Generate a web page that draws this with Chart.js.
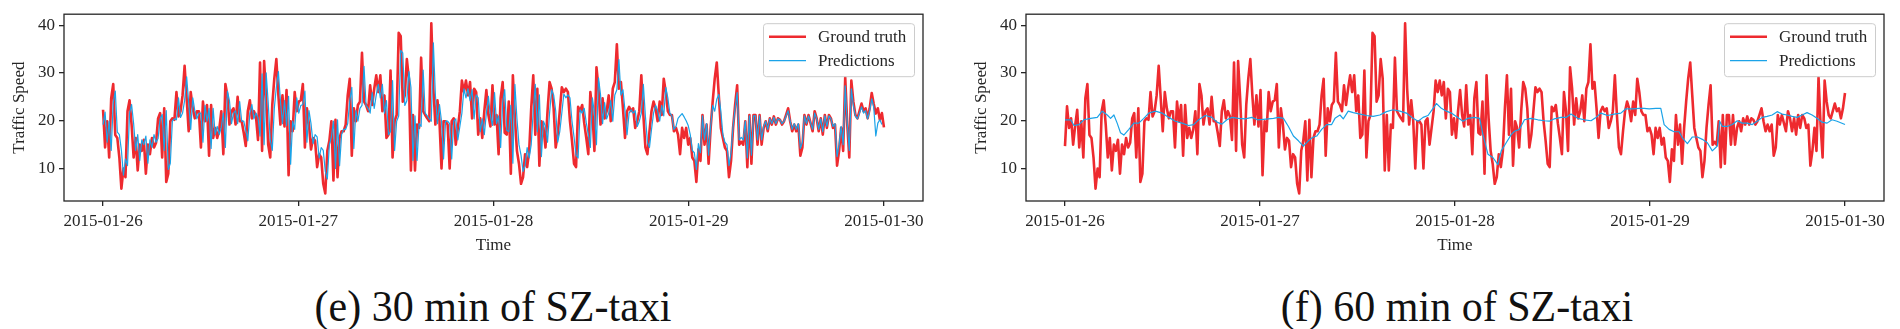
<!DOCTYPE html>
<html lang="en">
<head>
<meta charset="UTF-8">
<title>SZ-taxi traffic speed predictions</title>
<script src="https://cdn.jsdelivr.net/npm/chart.js"></script>
<style>
  body {
    margin: 0;
    background: #fff;
    width: 1900px;
    height: 329px;
    overflow: hidden;
    position: relative;
    font-family: 'Liberation Serif', 'Times New Roman', serif;
  }
  .panel { position: absolute; top: 0; }
  .caption {
    position: absolute;
    top: 283px;
    width: 600px;
    text-align: center;
    font-size: 42px;
    line-height: 48px;
    color: #111;
    transform: scaleY(1.07);
    transform-origin: 50% 38px;
  }
</style>
</head>
<body>

<canvas id="chart30" class="panel" width="950" height="260" style="left:0px"></canvas>
<canvas id="chart60" class="panel" width="938" height="260" style="left:962px"></canvas>
<div class="caption" style="left:193px">(e) 30 min of SZ-taxi</div>
<div class="caption" style="left:1157px">(f) 60 min of SZ-taxi</div>

<script>
// x axis is in hours since 2015-01-26 00:00
const tickHours = [0, 24, 48, 72, 96];
const dateLabels = ['2015-01-26', '2015-01-27', '2015-01-28', '2015-01-29', '2015-01-30'];
const yTicks = [10, 20, 30, 40];

// ground truth speed, 15 min samples. The 60 min panel shows the first 384,
// the 30 min panel starts 6 samples later (so it also shows the last 6)
const groundTruth = [
  14.7, 23, 18.5, 20.5, 15, 19, 22.3, 14.4, 19.9, 12.3, 24.7, 27.7, 17, 16.4, 12.3, 5.8, 10, 8.2, 22, 24.3,
  19.2, 12.3, 16.4, 9.6, 15, 13.7, 16, 8.9, 15, 13, 16.4, 14.4, 15.4, 20.5, 21.6, 12.3, 22.6, 7.2, 8.9, 19.9,
  20.5, 20.2, 26, 20.9, 22, 25.3, 31.5, 24.7, 17.8, 26, 22.6, 20.5, 22, 22, 14.4, 24, 19.9, 23.3, 12.7, 23.3,
  16.4, 18.5, 16.4, 18.2, 22, 13, 27.7, 25.3, 19.2, 22, 22.6, 19.2, 25, 19.9, 19.9, 17.5, 14.7, 22, 24.3, 20.5,
  22, 20.9, 16, 32.2, 13.7, 32.5, 24.7, 15, 12.3, 23.3, 28.8, 32.9,
  25.3, 19.2, 25.3, 18.8, 26.4, 8.6, 19.9, 17.8, 26, 22, 24, 24.3, 27.7, 14.4, 22.6, 19.2, 14, 16.4, 15.8, 10.3,
  13, 12.3, 6.8, 4.8, 13.7, 15.8, 19.9, 7.5, 20.2, 8.2, 16.4, 17.8, 17.8, 19.2, 25.3, 28.8, 12.7, 22.6, 19.9, 23.3,
  24, 34.2, 24, 23.3, 22, 27.4, 23.3, 26.7, 29.5, 26, 29.5, 22, 25.3, 16.4, 17.1, 30.5, 12.3, 19.9, 21.2, 38.4,
  37.7, 24, 25.3, 32.9, 28.8, 9.6, 21.2, 9.6, 19.2, 18.5, 33.2, 22, 21.2, 20.5, 19.9, 40.4, 26.7, 19.2, 24.3, 19.9,
  10, 19.9, 19.9, 19.2, 10, 19.9, 20.5, 15, 18.5, 22, 28.4, 26, 28.4, 25.3, 28.1,
  20.5, 26.7, 26, 17.1, 20.5, 16.4, 22, 26.4, 21.2, 18.8, 27.4, 19.2, 21.2, 13, 24.7, 28.1, 17.5, 17.1, 24, 8.9,
  29.5, 20.5, 13.7, 11, 6.8, 8.2, 13, 10.3, 13.7, 22.6, 29.5, 17.1, 26.7, 10.6, 19.9, 18.5, 14.4, 22, 28.1, 26.7,
  22.6, 14.4, 17.1, 22, 27, 26, 26.7, 26, 19.9, 15.8, 11, 10.3, 22.9, 22, 23.3, 19.5, 16.4, 13, 26, 22,
  13.7, 31.2, 26.7, 19.2, 24.7, 20.5, 22, 25.3, 19.9, 26.7, 28.1, 36, 26.7, 28.1, 22.6, 16.4, 22, 22.9, 22, 22.6,
  18.5, 19.9, 22, 29.5, 21.2, 14.4, 13, 17.8, 22, 24, 22.6, 19.9, 24, 21.2, 28.8, 26, 22, 21.2,
  21.2, 17.8, 18.5, 17.1, 13, 18.5, 16.4, 18.5, 15, 16.4, 12.3, 11.6, 7.2, 14, 11.6, 21.2, 15, 19.2, 11, 18.5,
  24, 28.8, 32.2, 25.3, 18.5, 16.4, 14.4, 13.7, 8.2, 11.6, 18.5, 23.3, 27.4, 15, 15.6, 15, 19.9, 10.3, 21.2, 11,
  21.2, 21.2, 15, 21.2, 15, 18.5, 19.9, 17.8, 20.5, 19.2, 20.9, 19.2, 20.5, 20.2, 19.2, 19.9, 21.2, 22.6, 19.9, 17.8,
  19.2, 17.8, 19.2, 12.7, 14.4, 21.2, 19.2, 21.2, 19.5, 17.8, 22, 20.5, 17.8, 20.5, 17.1, 21.2, 18.5, 21.2, 20.5, 18.5,
  19.2, 10.6, 13.7, 18.5, 13.7, 29.1, 19.2, 12.3, 28.4, 24, 21.2, 20.5, 22, 23.6, 22, 22.6, 20.5, 22.6, 25.8,
  23.5, 21.5, 22.6, 20.2, 21.6, 18.6
];
const OFFSET_30 = 6;
const SAMPLES = 384;

// 30 min predictions, same 15 min grid as the 30 min panel
const pred30 = [
  19.2, 21.8, 15.5, 19.9, 13.8, 23.8, 26.2, 17.6, 17.1, 13.8, 8.6, 12, 10.6, 21.6, 23.4, 19.4, 13.8, 17.1, 11.7, 16,
  15, 16.8, 11.1, 16, 14.4, 17.1, 15.5, 16.3, 20.4, 21.3, 13.8, 22.1, 9.8, 11.1, 19.9, 20.4, 20.2, 24.8, 20.7, 21.6,
  24.2, 29.2, 23.8, 18.2, 24.8, 22.1, 20.4, 21.6, 21.6, 15.5, 23.2, 19.9, 22.6, 14.2, 22.6, 17.1, 18.8, 17.1, 18.6, 21.6,
  14.4, 26.2, 24.2, 19.4, 21.6, 22.1, 19.4, 24, 19.9, 19.9, 18, 15.8, 21.6, 23.4, 20.4, 21.6, 20.7, 16.8, 29.8, 15,
  30, 23.8, 16, 13.8, 22.6, 27,
  30.3, 24.2, 19.4, 24.2, 19, 25.1, 10.9, 19.9, 18.2, 24.8, 21.6, 23.2, 23.4, 26.2, 15.5, 22.1, 19.4, 15.2, 17.1, 16.6,
  12.2, 14.4, 13.8, 9.4, 7.8, 15, 16.6, 19.9, 10, 20.2, 10.6, 17.1, 18.2, 18.2, 19.4, 24.2, 27, 14.2, 22.1, 19.9,
  22.6, 23.2, 31.4, 23.2, 22.6, 21.6, 25.9, 22.6, 25.4, 27.6, 24.8, 27.6, 21.6, 24.2, 17.1, 17.7, 28.4, 13.8, 19.9, 21,
  34.7, 34.2, 23.2, 24.2, 30.3, 27, 11.7, 21, 11.7, 19.4, 18.8, 30.6, 21.6, 21, 20.4, 19.9, 36.3, 25.4, 19.4, 23.4,
  19.9, 12, 19.9, 19.9, 19.4, 12, 19.9, 20.4, 16, 18.8, 21.6, 26.7, 24.8, 26.7, 24.2,
  26.5, 20.4, 25.4, 24.8, 17.7, 20.4, 17.1, 21.6, 25.1, 21, 19, 25.9, 19.4, 21, 14.4, 23.8, 26.5, 18, 17.7, 23.2,
  11.1, 27.6, 20.4, 15, 12.8, 9.4, 10.6, 14.4, 12.2, 15, 22.1, 27.6, 17.7, 25.4, 12.5, 19.9, 18.8, 15.5, 21.6, 26.5,
  25.4, 22.1, 15.5, 17.7, 21.6, 25.6, 24.8, 25.4, 24.8, 19.9, 16.6, 12.8, 12.2, 22.3, 21.6, 22.6, 19.6, 17.1, 14.4, 24.8,
  21.6, 15, 29, 25.4, 19.4, 23.8, 20.4, 21.6, 24.2, 19.9, 25.4, 26.5, 32.8, 25.4, 26.5, 22.1, 17.1, 21.6, 22.3, 21.6,
  22.1, 18.8, 19.9, 21.6, 27.6, 21, 15.5, 14.4, 18.2, 21.6, 23.2, 22.1, 19.9, 23.2, 21, 27, 24.8, 21.6,
  21, 18.2, 18.8, 20.5, 21, 21.5, 20.8, 20, 19, 17.1, 13.8, 13.3, 9.8, 15.2, 13.3, 21, 16, 19.4, 12.8, 18.8,
  23.2, 22, 24.5, 25.5, 22, 17.1, 15.5, 15, 10.6, 13.3, 18.8, 22.6, 25.9, 16, 16.5, 16, 19.9, 12.2, 21, 12.8,
  21, 21, 16, 21, 16, 18.8, 19.9, 18.2, 20.4, 19.4, 20.7, 19.4, 20.4, 20.2, 19.4, 19.9, 21, 22.1, 19.9, 18.2,
  19.4, 18.2, 19.4, 14.2, 15.5, 21, 19.4, 21, 19.6, 18.2, 21.6, 20.4, 18.2, 20.4, 17.7, 21, 18.8, 21, 20.4, 18.8,
  19.4, 12.5, 15, 18.8, 15, 27.3, 19.4, 13.8, 26.7, 23.2, 21, 20.4, 21.6, 22.9, 21.6, 22.1, 20.4, 22.1,
  24.6, 22.8, 16.8, 19.5, 20.2, 19.2
];

// 60 min predictions, traced where the smooth curve bends
const pred60Hours = [
  0, 0.70, 1.10, 1.72, 2.33, 3.15, 3.97, 4.58, 5.20, 5.61, 6.02, 6.42, 6.83, 7.24, 7.86, 8.47, 9.08, 9.70, 10.31, 11.13,
  11.95, 12.77, 13.59, 14.40, 15.22, 15.84, 16.45, 17.27, 18.09, 18.70, 19.31, 19.93, 20.54, 21.36, 22.18, 23.00, 23.69,
  24.43, 25.04, 25.66, 26.27, 26.88, 27.50, 28.11, 28.73, 29.34, 29.95, 30.36, 30.98, 31.59, 32.20, 32.82, 33.23, 33.84,
  34.25, 34.86, 35.48, 36.30, 37.11, 37.93, 38.75, 39.57, 40.39, 41.21, 42.02, 42.84, 43.46, 44.07, 44.68, 45.30, 45.71,
  46.32, 46.94, 47.55,
  48.16, 48.98, 49.60, 50.41, 51.03, 51.44, 52.05, 52.66, 53.28, 53.69, 54.30, 54.92, 55.32, 55.94, 56.55, 57.37, 58.19,
  59.01, 59.62, 60.23, 61.05, 61.67, 62.28, 63.10, 63.92, 64.74, 65.35, 65.96, 66.78, 67.60, 68.42, 69.03, 69.85, 70.67,
  71.28, 71.90, 72.72, 73.33, 73.74, 74.35, 74.97, 75.58, 75.99, 76.60, 77.22, 77.83, 78.44, 79.06, 79.67, 80.29, 80.57,
  80.90, 81.51, 82.13, 82.74, 83.35, 83.97, 84.58, 85.20, 85.81, 86.42, 87.04, 87.65, 88.26, 88.88, 89.49, 90.11, 90.72,
  91.33, 91.95, 92.56, 93.17, 93.79, 94.40, 95.02, 96
];
const pred60 = [
  20.2, 20.2, 19, 19.2, 20.2, 20.5, 20.7, 22, 21.2, 20.5, 21.2, 19.5, 17.5, 17, 18.2, 19.5, 19.5, 20.5, 21.6, 22,
  21.6, 20.7, 19.9, 19.5, 19, 19.2, 20.2, 21.1, 20.7, 19.7, 19.3, 20.2, 20.7, 20.5, 20.4, 20.7, 20.2,
  20.3, 20.4, 20.5, 20.7, 20.5, 18.8, 16.8, 15.8, 14.7, 15.8, 16.4, 16.8, 18.2, 19.2, 19.2, 20.5, 21.2,
  20.4, 22, 21.7, 21.4, 21.1, 20.9, 21.2, 21.9, 22.3, 22, 21.6, 20.5, 19.9, 20.7, 21.1, 22.6, 23.6,
  22.6, 22, 21.6,
  20.9, 19.9, 20.5, 20.7, 20.5, 17.1, 13, 12.3, 10.8, 13.7, 15.4, 17.1, 17.8, 18.2, 20.2, 20.5, 20.2,
  20, 19.9, 20.4, 20.7, 20.7, 21.4, 20.5, 20.2, 20, 20.7, 21.6, 21.1, 21.4, 21.6, 22.5, 22.5, 22.6,
  22.6, 22.5, 22.6, 22.6, 19.2, 18.2, 17.7, 17.7, 16.4, 15.2, 16.6, 16.6, 16.1, 15.4, 13.7, 14.7, 19.9,
  18.8, 18.8, 19.2, 20, 19.5, 19.5, 19.2, 19.9, 20.7, 20.9, 21.2, 21.9, 21.4, 21.2, 20.9, 20.7, 21.2,
  21.7, 21.2, 20.5, 19.7, 19.5, 20.2, 19.9, 19.2
];

const TEXT_COLOR = '#262626';
const RED = '#ee2a2f';
const BLUE = '#1ba3e8';
const FONT = "'Liberation Serif', 'Times New Roman', serif";
const STEP = 96 / (SAMPLES - 1);

function toPoints(values) {
  return values.map((v, i) => ({ x: i * STEP, y: v }));
}

// frame round the plot and a matplotlib-like legend box
const frameLegend = {
  id: 'frameLegend',
  afterDatasetsDraw(chart) {
    const ctx = chart.ctx;
    const a = chart.chartArea;
    ctx.save();
    ctx.strokeStyle = TEXT_COLOR;
    ctx.lineWidth = 1.3;
    ctx.strokeRect(a.left, a.top, a.right - a.left, a.bottom - a.top);

    const w = 151, h = 53;
    const x = a.right - 9 - w, y = a.top + 9;
    ctx.beginPath();
    ctx.roundRect(x + 0.5, y + 0.5, w, h, 3);
    ctx.fillStyle = 'rgba(255,255,255,0.85)';
    ctx.fill();
    ctx.strokeStyle = '#cccccc';
    ctx.lineWidth = 1;
    ctx.stroke();

    chart.data.datasets.forEach((ds, i) => {
      const ly = y + 13.5 + i * 24;
      ctx.beginPath();
      ctx.moveTo(x + 6, ly);
      ctx.lineTo(x + 43, ly);
      ctx.strokeStyle = ds.borderColor;
      ctx.lineWidth = ds.borderWidth;
      ctx.stroke();
      ctx.fillStyle = TEXT_COLOR;
      ctx.font = '17px ' + FONT;
      ctx.textBaseline = 'middle';
      ctx.fillText(ds.label, x + 55, ly + 1);
    });
    ctx.restore();
  }
};

function makeChart(id, truthPoints, predPoints, padRight) {
  new Chart(document.getElementById(id), {
    type: 'line',
    data: {
      datasets: [
        { label: 'Ground truth', data: truthPoints, borderColor: RED, borderWidth: 2.6, order: 2 },
        { label: 'Predictions', data: predPoints, borderColor: BLUE, borderWidth: 1.2, order: 1 }
      ]
    },
    options: {
      responsive: false,
      animation: false,
      events: [],
      layout: { padding: { left: 0, right: padRight, top: 11, bottom: 4 } },
      elements: {
        point: { radius: 0 },
        line: { tension: 0, borderJoinStyle: 'round', fill: false }
      },
      plugins: { legend: { display: false }, tooltip: { enabled: false } },
      scales: {
        x: {
          type: 'linear',
          min: -4.8,
          max: 100.8,
          afterBuildTicks: s => { s.ticks = tickHours.map(v => ({ value: v })); },
          afterFit: s => { s.height = 55; },
          border: { display: false },
          grid: { drawOnChartArea: false, drawTicks: true, tickLength: 5, color: TEXT_COLOR, lineWidth: 1.3 },
          ticks: {
            autoSkip: false, maxRotation: 0, padding: 5, color: TEXT_COLOR,
            font: { family: FONT, size: 17 },
            callback: v => dateLabels[tickHours.indexOf(v)]
          },
          title: { display: true, text: 'Time', color: TEXT_COLOR, font: { family: FONT, size: 17 }, padding: { top: 3, bottom: 0 } }
        },
        y: {
          min: 3.2,
          max: 42.3,
          afterBuildTicks: s => { s.ticks = yTicks.map(v => ({ value: v })); },
          afterFit: s => { s.width = 64; },
          border: { display: false },
          grid: { drawOnChartArea: false, drawTicks: true, tickLength: 5, color: TEXT_COLOR, lineWidth: 1.3 },
          ticks: { padding: 4, color: TEXT_COLOR, font: { family: FONT, size: 17 } },
          title: { display: true, text: 'Traffic Speed', color: TEXT_COLOR, font: { family: FONT, size: 17 }, padding: { top: 9, bottom: 0 } }
        }
      }
    },
    plugins: [frameLegend]
  });
}

makeChart('chart30', toPoints(groundTruth.slice(OFFSET_30, OFFSET_30 + SAMPLES)), toPoints(pred30), 27);
makeChart('chart60', toPoints(groundTruth.slice(0, SAMPLES)),
  pred60Hours.map((h, i) => ({ x: h, y: pred60[i] })), 16);
</script>
</body>
</html>
